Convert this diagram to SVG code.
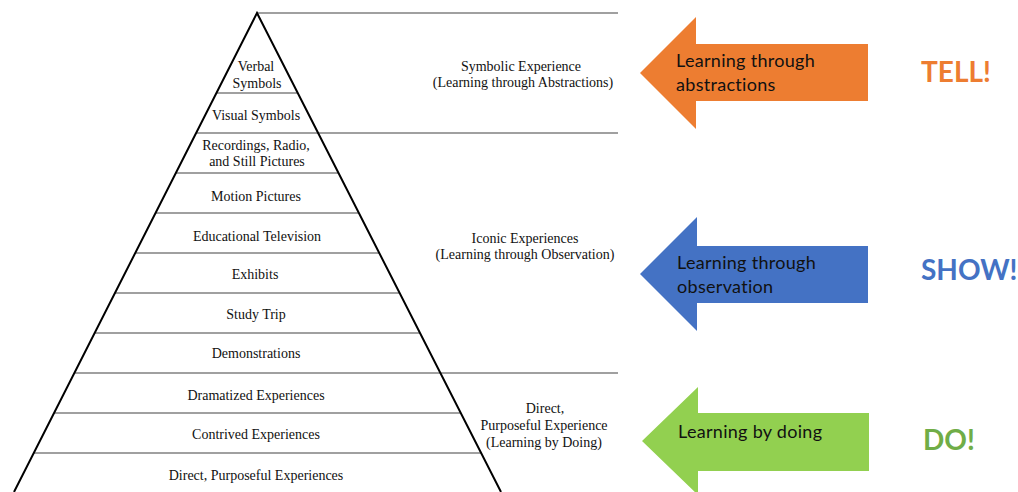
<svg xmlns="http://www.w3.org/2000/svg" width="1018" height="492" viewBox="0 0 1018 492">
<style>
.t{font-family:"Liberation Serif","Times New Roman",serif;font-size:14px;fill:#111;text-anchor:middle}
.a{font-family:Lato,"Open Sans",sans-serif;font-size:18px;letter-spacing:0.3px;fill:#111}
.big{font-family:Lato,"Open Sans",sans-serif;font-size:28px;font-weight:bold}
.div{stroke:#808080;stroke-width:1.6;fill:none}
.side{stroke:#000;stroke-width:2;fill:none}
</style>
<rect width="1018" height="492" fill="#fff"/>
<g id="connectors">
<line class="div" x1="257" y1="13" x2="618" y2="13"/>
<line class="div" x1="216.4" y1="93" x2="297.8" y2="93"/>
<line class="div" x1="196.1" y1="133" x2="618" y2="133"/>
<line class="div" x1="175.8" y1="173" x2="338.5" y2="173"/>
<line class="div" x1="155.5" y1="213" x2="358.9" y2="213"/>
<line class="div" x1="135.2" y1="253" x2="379.3" y2="253"/>
<line class="div" x1="114.9" y1="293" x2="399.6" y2="293"/>
<line class="div" x1="94.7" y1="333" x2="420" y2="333"/>
<line class="div" x1="74.4" y1="373" x2="618" y2="373"/>
<line class="div" x1="54.1" y1="413" x2="460.8" y2="413"/>
<line class="div" x1="33.8" y1="453" x2="481.1" y2="453"/>
<polyline class="side" points="14,492 257,13 501,492"/>
</g>
<g id="verbal"><text class="t" x="256" y="71">Verbal</text><text class="t" x="257" y="88">Symbols</text></g>
<g id="visual"><text class="t" x="256" y="120">Visual Symbols</text></g>
<g id="recordings"><text class="t" x="256" y="150">Recordings, Radio,</text><text class="t" x="257" y="166">and Still Pictures</text></g>
<g id="motion"><text class="t" x="256" y="201">Motion Pictures</text></g>
<g id="tv"><text class="t" x="257" y="241">Educational Television</text></g>
<g id="exhibits"><text class="t" x="255" y="279">Exhibits</text></g>
<g id="trip"><text class="t" x="256" y="319">Study Trip</text></g>
<g id="demo"><text class="t" x="256" y="358">Demonstrations</text></g>
<g id="dramatized"><text class="t" x="256" y="400">Dramatized Experiences</text></g>
<g id="contrived"><text class="t" x="256" y="439">Contrived Experiences</text></g>
<g id="direct"><text class="t" x="256" y="480">Direct, Purposeful Experiences</text></g>
<g id="symbolic"><text class="t" x="521" y="71">Symbolic Experience</text><text class="t" x="523" y="87">(Learning through Abstractions)</text></g>
<g id="iconic"><text class="t" x="525" y="243">Iconic Experiences</text><text class="t" x="525" y="259">(Learning through Observation)</text></g>
<g id="directexp"><text class="t" x="545" y="413">Direct,</text><text class="t" x="544" y="430">Purposeful Experience</text><text class="t" x="544" y="447">(Learning by Doing)</text></g>
<g id="tell-arrow">
<polygon points="640,73 696,17 696,44 868,44 868,101 696,101 696,129" fill="#ED7D31"/>
<text class="a" x="676" y="67">Learning through</text><text class="a" x="676" y="91">abstractions</text>
</g>
<g id="show-arrow">
<polygon points="640,274 697,217 697,246 868,246 868,303 697,303 697,331" fill="#4472C4"/>
<text class="a" x="677" y="269">Learning through</text><text class="a" x="677" y="293">observation</text>
</g>
<g id="do-arrow">
<polygon points="642,441 698,387 698,413 869,413 869,471 698,471 698,495" fill="#92D050"/>
<text class="a" x="678" y="438">Learning by doing</text>
</g>
<g id="tell"><text class="big" x="921" y="82" fill="#ED7D31">TELL!</text></g>
<g id="show"><text class="big" x="921" y="280" fill="#4472C4">SHOW!</text></g>
<g id="do"><text class="big" x="923" y="450" fill="#70AD47">DO!</text></g>
</svg>
